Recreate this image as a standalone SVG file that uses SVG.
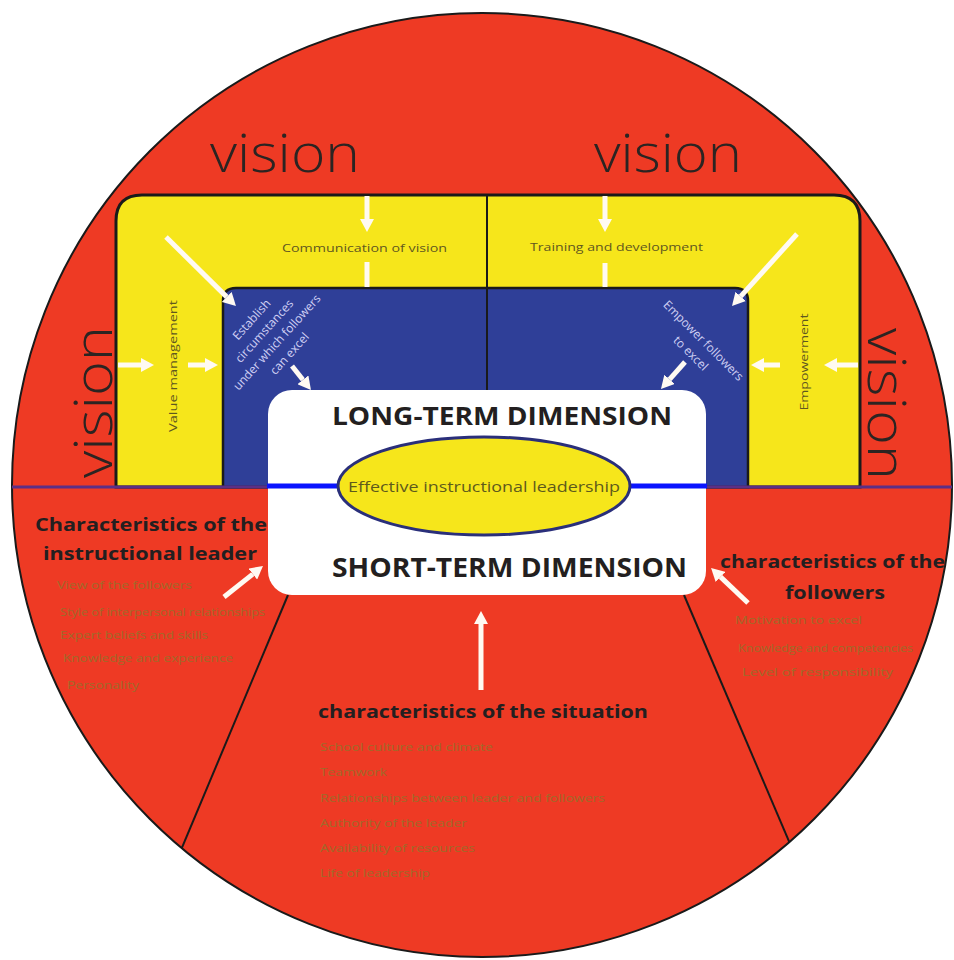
<svg xmlns="http://www.w3.org/2000/svg" width="954" height="960" viewBox="0 0 954 960">
  <style>
    .vision { font-family: "Open Sans", "Noto Sans", "Liberation Sans", sans-serif; font-weight: 300; font-size: 54px; fill: #2b2422; }
    .ylabel { font-family: "Open Sans", "Noto Sans", "Liberation Sans", sans-serif; font-size: 11.5px; fill: #5f5720; }
    .blabel { font-family: "Open Sans", "Noto Sans", "Liberation Sans", sans-serif; font-size: 12px; fill: #cfd0f4; }
    .dim { font-family: "Open Sans", "Noto Sans", "Liberation Sans", sans-serif; font-weight: 700; fill: #231f20; }
    .core { font-family: "Open Sans", "Noto Sans", "Liberation Sans", sans-serif; font-size: 15px; fill: #5e5a1c; }
    .head { font-family: "Open Sans", "Noto Sans", "Liberation Sans", sans-serif; font-weight: 700; font-size: 18px; fill: #231f20; }
    .item { font-family: "Open Sans", "Noto Sans", "Liberation Sans", sans-serif; font-size: 11px; fill: #a06a2a; }
    .arrow { stroke: #fffaf2; stroke-width: 5; fill: none; }
    .divider { stroke: #1a1a1a; stroke-width: 2; }
  </style>
  <defs>
    <clipPath id="disc">
      <ellipse cx="482" cy="485" rx="470" ry="472"/>
    </clipPath>
    <marker id="head" viewBox="0 -7 13 14" refX="0" refY="0" markerWidth="13" markerHeight="14" markerUnits="userSpaceOnUse" orient="auto">
      <path d="M0,-7 L13,0 L0,7 Z" fill="#fffaf2"/>
    </marker>
  </defs>

  <!-- outer disc -->
  <g id="disc-base">
    <ellipse cx="482" cy="485" rx="470" ry="472" fill="#ee3a24" stroke="#1a1a1a" stroke-width="2"/>
  </g>

  <!-- yellow frame of the long-term half -->
  <g id="yellow-frame">
    <path d="M116,487 V221 Q116,195 142,195 H834 Q860,195 860,221 V487 Z" fill="#f6e61b" stroke="#1a1a1a" stroke-width="3"/>
    <text class="ylabel" x="282" y="252" textLength="165" lengthAdjust="spacingAndGlyphs">Communication of vision</text>
    <text class="ylabel" x="530" y="251" textLength="173" lengthAdjust="spacingAndGlyphs">Training and development</text>
    <text class="ylabel" transform="translate(177,366) rotate(-90)" text-anchor="middle" textLength="132" lengthAdjust="spacingAndGlyphs">Value management</text>
    <text class="ylabel" transform="translate(808,362) rotate(-90)" text-anchor="middle" textLength="97" lengthAdjust="spacingAndGlyphs">Empowerment</text>
  </g>

  <!-- blue inner field -->
  <g id="blue-field">
    <path d="M223,487 V301 Q223,288 236,288 H735 Q748,288 748,301 V487 Z" fill="#2f3f98" stroke="#1a1a1a" stroke-width="2.5"/>
    <g transform="translate(271,337) rotate(-48)">
      <text class="blabel" x="0" y="-22" text-anchor="middle">Establish</text>
      <text class="blabel" x="0" y="-5" text-anchor="middle">circumstances</text>
      <text class="blabel" x="0" y="12" text-anchor="middle">under which followers</text>
      <text class="blabel" x="0" y="29" text-anchor="middle">can excel</text>
    </g>
    <g transform="translate(697,347) rotate(45)">
      <text class="blabel" x="0" y="-5" text-anchor="middle">Empower followers</text>
      <text class="blabel" x="0" y="13" text-anchor="middle">to excel</text>
    </g>
  </g>

  <!-- the four vision labels -->
  <g id="vision-labels">
    <text class="vision" x="210" y="172" textLength="150" lengthAdjust="spacingAndGlyphs">vision</text>
    <text class="vision" x="594" y="172" textLength="148" lengthAdjust="spacingAndGlyphs">vision</text>
    <text class="vision" transform="translate(112,478) rotate(-90)" x="0" y="0" textLength="152" lengthAdjust="spacingAndGlyphs">vision</text>
    <text class="vision" transform="translate(868,328) rotate(90)" x="0" y="0" textLength="152" lengthAdjust="spacingAndGlyphs">vision</text>
  </g>

  <!-- connectors: dividers and arrows -->
  <g id="connectors">
    <g clip-path="url(#disc)">
      <line class="divider" x1="288" y1="595" x2="160" y2="900"/>
      <line class="divider" x1="684" y1="595" x2="814" y2="900"/>
      <line x1="0" y1="487" x2="954" y2="487" stroke="#5b2f86" stroke-width="3"/>
    </g>
    <line x1="487" y1="195" x2="487" y2="390" stroke="#1a1a1a" stroke-width="2"/>
    <!-- top arrows through the yellow frame -->
    <line class="arrow" x1="367" y1="196" x2="367" y2="219" marker-end="url(#head)"/>
    <line class="arrow" x1="367" y1="262" x2="367" y2="287"/>
    <line class="arrow" x1="605" y1="196" x2="605" y2="219" marker-end="url(#head)"/>
    <line class="arrow" x1="605" y1="263" x2="605" y2="287"/>
    <line class="arrow" x1="166" y1="237" x2="226.7" y2="296.9" marker-end="url(#head)"/>
    <line class="arrow" x1="797" y1="234" x2="740.7" y2="296.4" marker-end="url(#head)"/>
    <line class="arrow" x1="118" y1="365" x2="141" y2="365" marker-end="url(#head)"/>
    <line class="arrow" x1="188" y1="365" x2="205" y2="365" marker-end="url(#head)"/>
    <line class="arrow" x1="858" y1="365" x2="837" y2="365" marker-end="url(#head)"/>
    <line class="arrow" x1="780" y1="365" x2="764" y2="365" marker-end="url(#head)"/>
    <line class="arrow" x1="292" y1="366" x2="302.9" y2="379.8" marker-end="url(#head)"/>
    <line class="arrow" x1="685" y1="362" x2="669.6" y2="379.3" marker-end="url(#head)"/>
  </g>

  <!-- central dimension box -->
  <g id="dimension-box">
    <rect x="268" y="390" width="438" height="205" rx="24" ry="24" fill="#ffffff"/>
    <line x1="267" y1="486" x2="707" y2="486" stroke="#0a14ff" stroke-width="5"/>
    <text class="dim" x="332" y="425" font-size="25" textLength="340" lengthAdjust="spacingAndGlyphs">LONG-TERM DIMENSION</text>
    <text class="dim" x="332" y="577" font-size="26" textLength="355" lengthAdjust="spacingAndGlyphs">SHORT-TERM DIMENSION</text>
  </g>

  <g id="core">
    <ellipse cx="484" cy="486" rx="146" ry="49" fill="#f6e61b" stroke="#2a2f7a" stroke-width="3"/>
    <text class="core" x="484" y="492" text-anchor="middle" textLength="272" lengthAdjust="spacingAndGlyphs">Effective instructional leadership</text>
  </g>

  <!-- lower arrows toward the short-term dimension -->
  <g id="lower-arrows">
    <line class="arrow" x1="224" y1="597" x2="252.8" y2="574.1" marker-end="url(#head)"/>
    <line class="arrow" x1="748" y1="603" x2="720.5" y2="576.9" marker-end="url(#head)"/>
    <line class="arrow" x1="481" y1="690" x2="481" y2="624" marker-end="url(#head)"/>
  </g>

  <g id="leader">
    <text class="head" x="35" y="531" textLength="232" lengthAdjust="spacingAndGlyphs">Characteristics of the</text>
    <text class="head" x="43" y="560" textLength="214" lengthAdjust="spacingAndGlyphs">instructional leader</text>
    <text class="item" x="57" y="589" textLength="135" lengthAdjust="spacingAndGlyphs">View of the followers</text>
    <text class="item" x="60" y="616" textLength="205" lengthAdjust="spacingAndGlyphs">Style of interpersonal relationships</text>
    <text class="item" x="60" y="639" textLength="148" lengthAdjust="spacingAndGlyphs">Expert beliefs and skills</text>
    <text class="item" x="63" y="662" textLength="170" lengthAdjust="spacingAndGlyphs">Knowledge and experience</text>
    <text class="item" x="67" y="689" textLength="72" lengthAdjust="spacingAndGlyphs">Personality</text>
  </g>

  <g id="situation">
    <text class="head" x="318" y="718" textLength="330" lengthAdjust="spacingAndGlyphs">characteristics of the situation</text>
    <text class="item" x="320" y="751" textLength="173" lengthAdjust="spacingAndGlyphs">School culture and climate</text>
    <text class="item" x="320" y="776" textLength="67" lengthAdjust="spacingAndGlyphs">Teamwork</text>
    <text class="item" x="320" y="802" textLength="285" lengthAdjust="spacingAndGlyphs">Relationships between leader and followers</text>
    <text class="item" x="320" y="827" textLength="147" lengthAdjust="spacingAndGlyphs">Authority of the leader</text>
    <text class="item" x="320" y="852" textLength="155" lengthAdjust="spacingAndGlyphs">Availability of resources</text>
    <text class="item" x="320" y="877" textLength="110" lengthAdjust="spacingAndGlyphs">Life of leadership</text>
  </g>

  <g id="followers">
    <text class="head" x="720" y="568" textLength="225" lengthAdjust="spacingAndGlyphs">characteristics of the</text>
    <text class="head" x="785" y="599" textLength="100" lengthAdjust="spacingAndGlyphs">followers</text>
    <text class="item" x="735" y="624" textLength="127" lengthAdjust="spacingAndGlyphs">Motivation to excel</text>
    <text class="item" x="738" y="652" textLength="175" lengthAdjust="spacingAndGlyphs">Knowledge and competencies</text>
    <text class="item" x="742" y="676" textLength="151" lengthAdjust="spacingAndGlyphs">Level of responsibility</text>
  </g>
</svg>
